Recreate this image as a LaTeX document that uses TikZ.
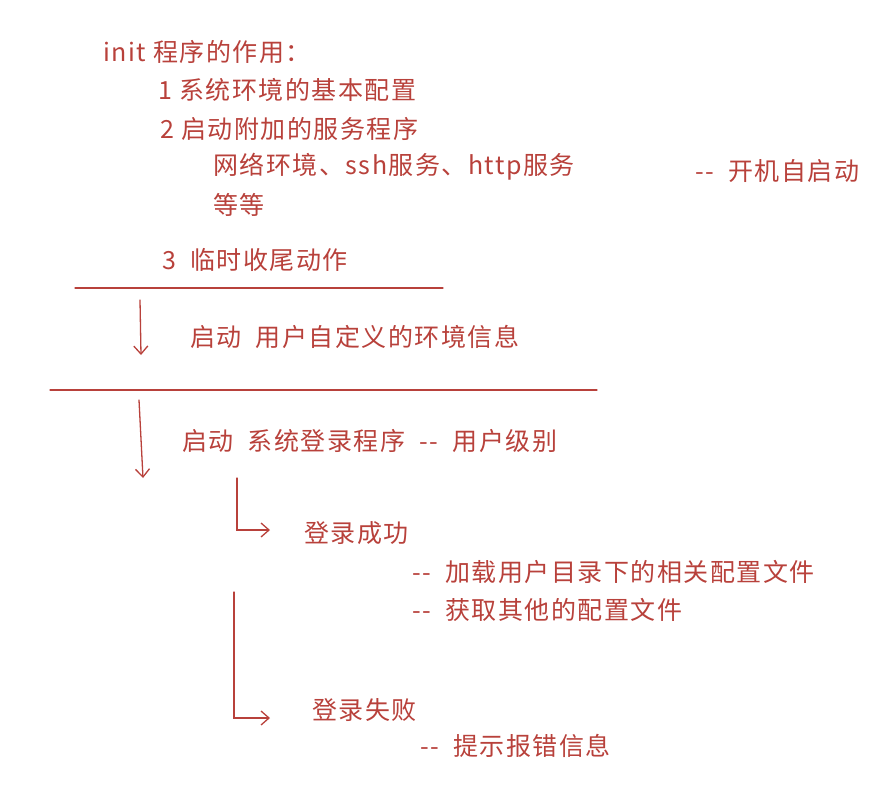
\documentclass[tikz,border=0pt]{standalone}
\usepackage{fontspec}
\setmainfont{Noto Sans CJK SC}[LetterSpace=6]
\usetikzlibrary{arrows.meta}
\definecolor{ink}{HTML}{B8413B}
\newcommand{\dd}{{-}{-}}
\begin{document}
\begin{tikzpicture}[x=1pt,y=-1pt,
  t/.style={anchor=west,text=ink,font=\fontsize{25}{30}\selectfont,inner sep=0pt},
  ln/.style={draw=ink,line width=1.3pt,line cap=round},
  ar/.style={ln,-{Straight Barb[length=8pt,width=14pt]}}]
\useasboundingbox (0,0) rectangle (895,798);
\node[t] (a) at (103,52) {init\ 程序的作用：};
\node[t] (b) at (158,90) {1\ 系统环境的基本配置};
\node[t] (c) at (160,129) {2\ 启动附加的服务程序};
\node[t] (d) at (213,167) {网络环境、ssh服务、http服务};
\node[t] (e) at (213,205) {等等};
\node[t] (f) at (695,171) {\dd\ \ 开机自启动};
\node[t] (g) at (162,260) {3\ \ 临时收尾动作};
\coordinate (l1a) at (75,288); \coordinate (l1b) at (443,288);
\draw[ln] (l1a) -- (l1b);
\coordinate (p1) at (140,300); \coordinate (p2) at (141,355);
\draw[ar] (p1) -- (p2);
\node[t] (h) at (190,337) {启动\ \ 用户自定义的环境信息};
\coordinate (l2a) at (50,390); \coordinate (l2b) at (597,390);
\draw[ln] (l2a) -- (l2b);
\coordinate (p3) at (139,400); \coordinate (p4) at (143,478);
\draw[ar] (p3) -- (p4);
\node[t] (i) at (182,441) {启动\ \ 系统登录程序\ \ \dd\ \ 用户级别};
\coordinate (q1) at (237,478); \coordinate (q2) at (237,530); \coordinate (q3) at (270,530);
\draw[ar] (q1) -- (q2) -- (q3);
\node[t] (j) at (304,533) {登录成功};
\node[t] (k) at (412,572) {\dd\ \ 加载用户目录下的相关配置文件};
\node[t] (l) at (412,610) {\dd\ \ 获取其他的配置文件};
\coordinate (r1) at (234,592); \coordinate (r2) at (234,718); \coordinate (r3) at (270,718);
\draw[ar] (r1) -- (r2) -- (r3);
\node[t] (m) at (312,710) {登录失败};
\node[t] (n) at (420,746) {\dd\ \ 提示报错信息};
\end{tikzpicture}
\end{document}
